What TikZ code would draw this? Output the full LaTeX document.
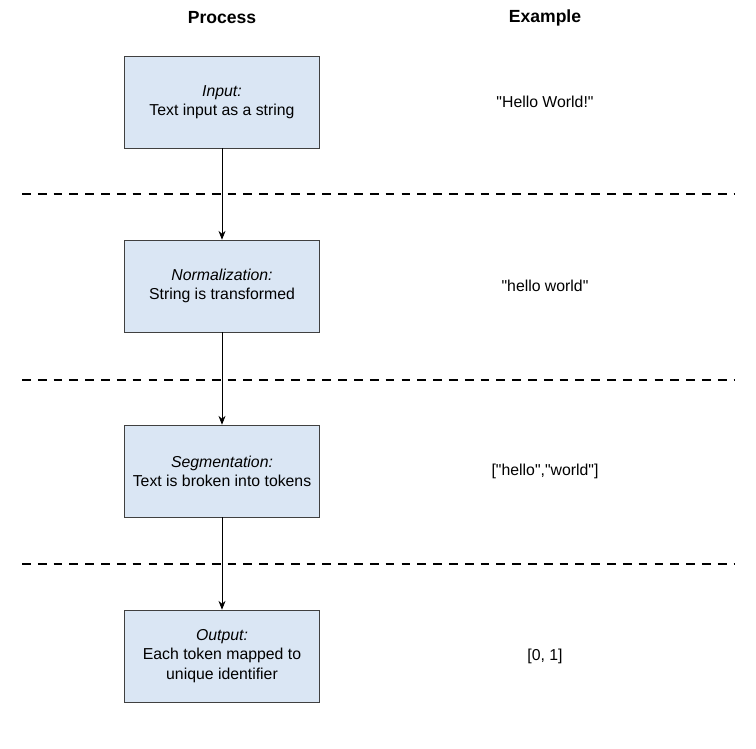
\documentclass[tikz,border=0pt]{standalone}
\usepackage{fontspec}
\setmainfont{Liberation Sans}[Ligatures=TeXOff]
\usetikzlibrary{arrows.meta, positioning}
\definecolor{boxblue}{HTML}{DAE6F4}
\begin{document}
\begin{tikzpicture}[
x=0.02cm, y=-0.02cm,
font=\fontsize{9}{11}\selectfont,
every node/.style={align=center},
stage/.style={draw=black!75, fill=boxblue, minimum width=3.9cm, minimum height=1.84cm, inner sep=0pt},
header/.style={font=\fontsize{10}{12}\selectfont\bfseries},
flow/.style={-{Stealth[length=5pt,width=4pt]}},
divider/.style={thick, dash pattern=on 5pt off 4pt},
]
\useasboundingbox (0,0) rectangle (756,748);
% headers
\node[header] (hproc) at (222,18) {Process};
\node[header] (hex) at (545,18) {Example};
% stages
\node[stage] (input) at (222,102) {\textit{Input:}\\Text input as a string};
\node[stage] (norm) at (222,286) {\textit{Normalization:}\\String is transformed};
\node[stage] (seg) at (222,471) {\textit{Segmentation:}\\Text is broken into tokens};
\node[stage] (out) at (222,656) {\textit{Output:}\\Each token mapped to\\unique identifier};
% examples
\node (e1) at (545,102) {"Hello World!"};
\node (e2) at (545,286) {"hello world"};
\node (e3) at (545,471) {["hello","world"]};
\node (e4) at (545,656) {[0, 1]};
% dividers
\draw[divider] (22,194) -- (734,194);
\draw[divider] (22,380) -- (734,380);
\draw[divider] (22,564) -- (734,564);
% arrows
\draw[flow] (input) -- (norm);
\draw[flow] (norm) -- (seg);
\draw[flow] (seg) -- (out);
\end{tikzpicture}
\end{document}
